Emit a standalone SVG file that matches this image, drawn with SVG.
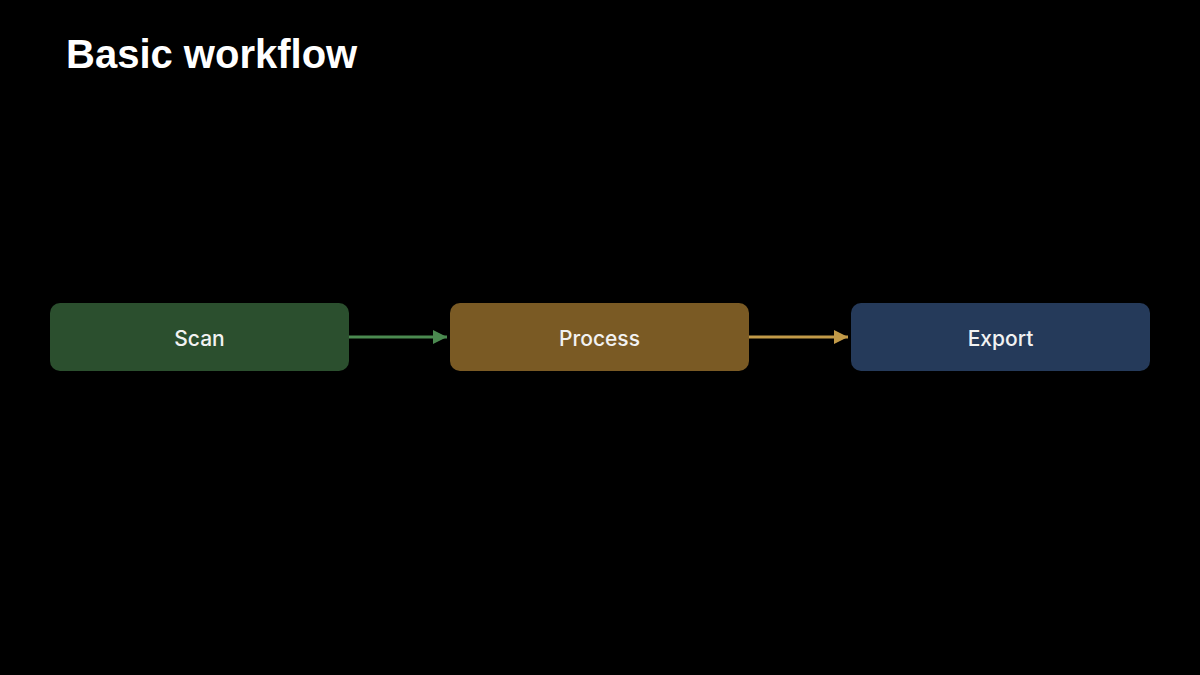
<svg xmlns="http://www.w3.org/2000/svg" width="1200" height="675" viewBox="0 0 1200 675">
<style>
.title{font-family:"Liberation Sans",Arial,sans-serif;font-weight:bold;font-size:40px;fill:#ffffff}
.lbl{font-family:"Inter","Liberation Sans",Arial,sans-serif;font-weight:500;font-size:21px;fill:#f2f2f2;text-anchor:middle;dominant-baseline:central}
.box{rx:10;ry:10}
.conn{stroke-width:3;fill:none}
</style>
<defs>
<marker id="ag" viewBox="0 0 14 14" refX="14" refY="7" markerWidth="14" markerHeight="14" markerUnits="userSpaceOnUse" orient="auto"><path d="M0,0 L14,7 L0,14 Z" fill="#4b8a50"/></marker>
<marker id="ao" viewBox="0 0 14 14" refX="14" refY="7" markerWidth="14" markerHeight="14" markerUnits="userSpaceOnUse" orient="auto"><path d="M0,0 L14,7 L0,14 Z" fill="#c29a48"/></marker>
</defs>
<rect width="1200" height="675" fill="#000000"/>
<text class="title" x="66" y="68">Basic workflow</text>
<g id="connectors">
<line class="conn" x1="349" y1="337" x2="447" y2="337" stroke="#4b8a50" marker-end="url(#ag)"/>
<line class="conn" x1="749" y1="337" x2="848" y2="337" stroke="#c29a48" marker-end="url(#ao)"/>
</g>
<g id="scan"><rect class="box" x="50" y="303" width="299" height="68" fill="#2b4f2e"/><text class="lbl" x="199.5" y="338">Scan</text></g>
<g id="process"><rect class="box" x="450" y="303" width="299" height="68" fill="#7a5a24"/><text class="lbl" x="599.5" y="338">Process</text></g>
<g id="export"><rect class="box" x="851" y="303" width="299" height="68" fill="#253a5a"/><text class="lbl" x="1000.5" y="338">Export</text></g>
</svg>
